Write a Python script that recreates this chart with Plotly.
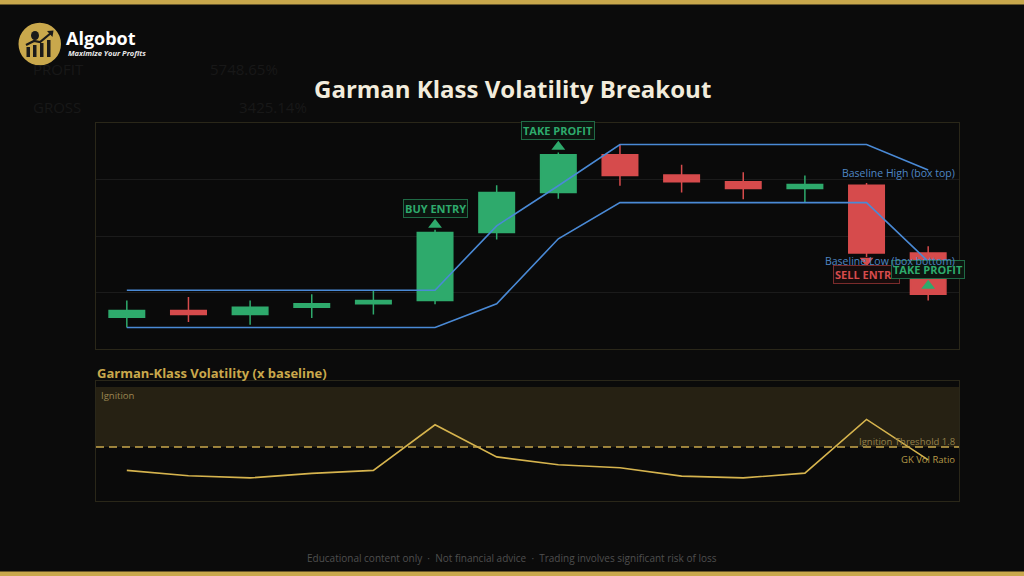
import plotly.graph_objects as go

# ---------------- data ----------------
x_idx = list(range(14))
opens = [98.56, 98.68, 98.61, 98.74, 98.80, 98.86, 100.06, 100.77, 101.44, 101.08, 100.96, 100.84, 100.90, 99.70]
highs = [98.86, 98.92, 98.86, 98.97, 99.04, 100.11, 100.90, 101.48, 101.62, 101.26, 101.13, 101.07, 100.94, 99.82]
lows = [98.38, 98.48, 98.43, 98.55, 98.61, 98.79, 99.94, 100.66, 100.89, 100.77, 100.65, 100.60, 99.63, 98.86]
closes = [98.68, 98.61, 98.74, 98.80, 98.86, 100.06, 100.77, 101.44, 101.07, 100.96, 100.84, 100.91, 99.70, 98.97]

base_high = [99.04, 99.04, 99.04, 99.04, 99.04, 99.04, 100.18, 100.89, 101.62, 101.62, 101.62, 101.62, 101.62, 101.17]
base_low = [98.38, 98.38, 98.38, 98.38, 98.38, 98.38, 98.80, 99.95, 100.59, 100.59, 100.59, 100.59, 100.59, 99.55]

gk_ratio = [1.02, 0.84, 0.77, 0.92, 1.02, 2.54, 1.47, 1.21, 1.11, 0.83, 0.77, 0.93, 2.72, 1.37]
ignition_threshold = 1.8
ignition_top = 3.8

sig_x = [5, 7, 12, 13]
sig_y = [100.20, 101.58, 99.56, 99.12]
sig_label = ["BUY ENTRY", "TAKE PROFIT", "SELL ENTRY", "TAKE PROFIT"]
sig_dir = ["up", "up", "down", "up"]

# ---------------- style ----------------
GREEN = "#2eaa6c"
RED = "#d64b4c"
BLUE = "#4a8ad6"
GOLD = "#c9a84c"
BG = "#0b0b0b"
FONT = "Open Sans"
W, H = 1024, 576


def px(x):
    return x / W


def py(y):
    return 1 - y / H


XDOM = [px(96), px(959)]

fig = go.Figure()

# baseline lines (behind candles)
fig.add_trace(go.Scatter(x=x_idx, y=base_high, mode="lines", line=dict(color=BLUE, width=1.6),
                         hoverinfo="skip", showlegend=False, xaxis="x", yaxis="y"))
fig.add_trace(go.Scatter(x=x_idx, y=base_low, mode="lines", line=dict(color=BLUE, width=1.6),
                         hoverinfo="skip", showlegend=False, xaxis="x", yaxis="y"))

fig.add_trace(go.Candlestick(
    x=x_idx, open=opens, high=highs, low=lows, close=closes,
    increasing=dict(line=dict(color=GREEN, width=1.5), fillcolor=GREEN),
    decreasing=dict(line=dict(color=RED, width=1.5), fillcolor=RED),
    whiskerwidth=0, showlegend=False, hoverinfo="skip", xaxis="x", yaxis="y"))

# signal markers
for sx, sy, lab, d in zip(sig_x, sig_y, sig_label, sig_dir):
    col = GREEN if d == "up" else RED
    fig.add_trace(go.Scatter(x=[sx], y=[sy], mode="markers",
                             marker=dict(symbol="triangle-up" if d == "up" else "triangle-down",
                                         size=12, color=col, line=dict(width=0)),
                             hoverinfo="skip", showlegend=False, xaxis="x", yaxis="y"))
    fig.add_annotation(x=sx, y=sy, xref="x", yref="y", text="<b>" + lab + "</b>", showarrow=False,
                       yshift=16 if d == "up" else -14,
                       font=dict(family=FONT, size=11, color=col),
                       bgcolor="#0c1510" if d == "up" else "#170c0c",
                       bordercolor="#1f6a45" if d == "up" else "#7a2b2b",
                       borderwidth=1, borderpad=1)

# GK ratio
fig.add_trace(go.Scatter(x=x_idx, y=gk_ratio, mode="lines", line=dict(color="#d6b44e", width=1.6),
                         hoverinfo="skip", showlegend=False, xaxis="x2", yaxis="y2"))

shapes = [
    # top / bottom gold bars
    dict(type="rect", xref="paper", yref="paper", x0=0, x1=1, y0=py(4.5), y1=1,
         fillcolor=GOLD, line=dict(width=0)),
    dict(type="rect", xref="paper", yref="paper", x0=0, x1=1, y0=0, y1=py(571.5),
         fillcolor=GOLD, line=dict(width=0)),
    # ignition band
    dict(type="rect", xref="x2 domain", yref="y2", x0=0, x1=1, y0=ignition_threshold, y1=ignition_top,
         fillcolor="rgba(201,168,76,0.15)", line=dict(width=0), layer="below"),
    dict(type="line", xref="x2 domain", yref="y2", x0=0, x1=1, y0=ignition_threshold, y1=ignition_threshold,
         line=dict(color=GOLD, width=1.5, dash="8px,5px")),
    # logo circle
    dict(type="circle", xref="paper", yref="paper", x0=px(18.5), x1=px(61), y0=py(65.3), y1=py(22.7),
         fillcolor=GOLD, line=dict(width=0)),
    dict(type="circle", xref="paper", yref="paper", x0=px(31), x1=px(39), y0=py(40), y1=py(31),
         fillcolor="#1a1a1a", line=dict(width=0)),
]
for (bx, btop) in [(26.5, 47), (33, 45), (40, 43), (47, 40)]:
    shapes.append(dict(type="rect", xref="paper", yref="paper", x0=px(bx), x1=px(bx + 3.5),
                       y0=py(57), y1=py(btop), fillcolor="#1a1a1a", line=dict(width=0)))
shapes.append(dict(type="path", xref="paper", yref="paper",
                   path=f"M {px(26)} {py(45)} L {px(34)} {py(41)} L {px(40)} {py(42)} L {px(51)} {py(33)}",
                   line=dict(color="#1a1a1a", width=2.2)))
shapes.append(dict(type="path", xref="paper", yref="paper",
                   path=f"M {px(47)} {py(31)} L {px(53.5)} {py(30.5)} L {px(52.5)} {py(37)} Z",
                   fillcolor="#1a1a1a", line=dict(width=0)))

annotations = [
    dict(text="<b>Garman Klass Volatility Breakout</b>", x=0.5, y=py(88), xref="paper", yref="paper",
         showarrow=False, font=dict(family=FONT, size=24, color="#f2ecdc"), xanchor="center", yanchor="middle"),
    dict(text="<b>Algobot</b>", x=px(64), y=py(38), xref="paper", yref="paper", showarrow=False,
         font=dict(family=FONT, size=18, color="#ffffff"), xanchor="left", yanchor="middle"),
    dict(text="<b><i>Maximize Your Profits</i></b>", x=px(66), y=py(53.5), xref="paper", yref="paper",
         showarrow=False, font=dict(family=FONT, size=7.5, color="#e8e8e8"), xanchor="left", yanchor="middle"),
    dict(text="<b>Garman-Klass Volatility (x baseline)</b>", x=px(95), y=py(373), xref="paper", yref="paper",
         showarrow=False, font=dict(family=FONT, size=13, color=GOLD), xanchor="left", yanchor="middle"),
    dict(text="Ignition", x=px(99), y=py(395), xref="paper", yref="paper", showarrow=False,
         font=dict(family=FONT, size=9.5, color="#9c8651"), xanchor="left", yanchor="middle"),
    dict(text="Ignition Threshold 1.8", x=px(957), y=py(441.5), xref="paper", yref="paper", showarrow=False,
         font=dict(family=FONT, size=9.5, color="#93804a"), xanchor="right", yanchor="middle"),
    dict(text="GK Vol Ratio", x=px(957), y=gk_ratio[-1], xref="paper", yref="y2", showarrow=False,
         font=dict(family=FONT, size=9.5, color="#b59948"), xanchor="right", yanchor="middle"),
    dict(text="Baseline High (box top)", x=px(957), y=base_high[-1], xref="paper", yref="y", showarrow=False,
         yshift=-3, font=dict(family=FONT, size=10.5, color="#4f87c4"), xanchor="right", yanchor="middle"),
    dict(text="Baseline Low (box bottom)", x=px(957), y=base_low[-1], xref="paper", yref="y", showarrow=False,
         font=dict(family=FONT, size=10.5, color="#4f87c4"), xanchor="right", yanchor="middle"),
    dict(text="Educational content only  ·  Not financial advice  ·  Trading involves significant risk of loss",
         x=0.5, y=py(558), xref="paper", yref="paper", showarrow=False,
         font=dict(family=FONT, size=10, color="#4f4f4f"), xanchor="center", yanchor="middle"),
]
# faint background figures
for t, x, y in [("PROFIT", 31, 69), ("5748.65%", 208, 69), ("GROSS", 31, 107), ("3425.14%", 237, 107),
                ("LOSS", 31, 145), ("SHARE", 31, 184), ("0284.47%", 160, 29), ("1294.51", 862, 49)]:
    annotations.insert(0, dict(text=t, x=px(x), y=py(y), xref="paper", yref="paper", showarrow=False,
                               font=dict(family=FONT, size=15, color="#181818"),
                               xanchor="left", yanchor="middle"))

axis_common = dict(showticklabels=False, zeroline=False, showline=True, mirror=True,
                   linecolor="#2a2719", linewidth=1, ticks="", fixedrange=True)

fig.update_layout(
    width=W, height=H, autosize=False,
    margin=dict(l=0, r=0, t=0, b=0),
    paper_bgcolor=BG, plot_bgcolor="#0a0a0a",
    boxgap=0.2, boxgroupgap=0.28,
    showlegend=False,
    shapes=shapes, annotations=annotations,
    xaxis=dict(domain=XDOM, range=[-0.5, 13.5], anchor="y", showgrid=False,
               rangeslider=dict(visible=False), **axis_common),
    yaxis=dict(domain=[py(349), py(123)], range=[98, 102], anchor="x", showgrid=True,
               tick0=98, dtick=1, gridcolor="#1b1b1b", gridwidth=1, **axis_common),
    xaxis2=dict(domain=XDOM, range=[-0.5, 13.5], anchor="y2", showgrid=False, **axis_common),
    yaxis2=dict(domain=[py(501), py(381)], range=[0, 4], anchor="x2", showgrid=False, **axis_common),
)

fig.write_html("out.html", config={"displayModeBar": False},
               post_script="document.body.style.margin='0px';document.body.style.background='#0b0b0b';")
